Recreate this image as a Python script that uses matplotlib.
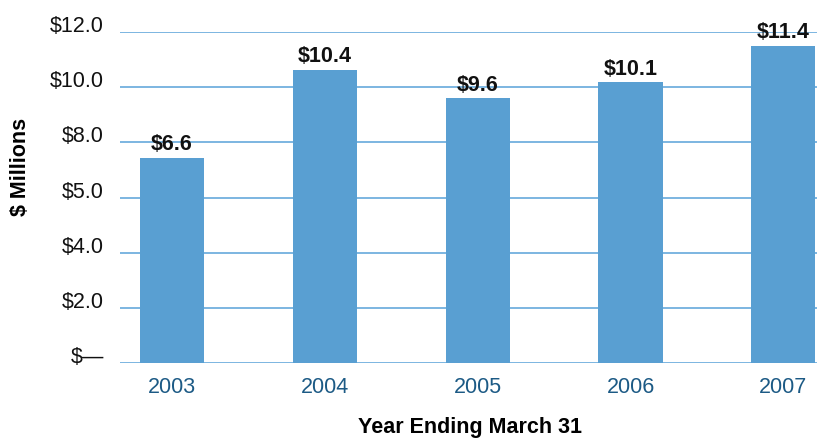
import matplotlib.pyplot as plt

plt.rcParams['font.family'] = ['Liberation Sans', 'DejaVu Sans']

years = ['2003', '2004', '2005', '2006', '2007']
# bar heights as drawn against the axis, and the labels printed on them
heights = [7.43, 10.62, 9.6, 10.18, 11.49]
value_labels = ['$6.6', '$10.4', '$9.6', '$10.1', '$11.4']
ytick_pos = [0, 2, 4, 6, 8, 10, 12]
ytick_labels = ['$\u2014', '$2.0', '$4.0', '$5.0', '$8.0', '$10.0', '$12.0']

bar_color = '#599fd2'
grid_color = '#72b0de'

fig = plt.figure(figsize=(8.17, 4.4), dpi=100)
ax = fig.add_axes([0.1469, 0.175, 0.8531, 0.752])

x = range(len(years))
ax.bar(x, heights, width=0.42, color=bar_color, zorder=3)

for i, (h, lab) in enumerate(zip(heights, value_labels)):
    ax.annotate(lab, (i, h), xytext=(0, 2), textcoords='offset points',
                ha='center', va='bottom', fontsize=15.5, fontweight='bold',
                color='#111111', zorder=4)

ax.set_xlim(-0.34, 4.22)
ax.set_ylim(0, 12)
ax.set_xticks(list(x))
ax.set_xticklabels(years, fontsize=15.5, color='#1c5a85')
ax.set_yticks(ytick_pos)
ax.set_yticklabels(ytick_labels, fontsize=15.5, color='#111111')
# labels sit on their gridlines, not centred on them
for t in ax.get_yticklabels():
    t.set_verticalalignment('baseline')
ax.tick_params(axis='both', length=0)
ax.tick_params(axis='y', pad=11.5)
ax.tick_params(axis='x', pad=10)

ax.yaxis.grid(True, color=grid_color, linewidth=1.3, zorder=0)
ax.set_axisbelow(True)
for s in ax.spines.values():
    s.set_visible(False)

fig.text(21 / 817, 1 - 167 / 440, '$ Millions', rotation=90, ha='center',
         va='center', fontsize=15.5, fontweight='bold')
fig.text(470 / 817, 2 / 440, 'Year Ending March 31', ha='center',
         va='bottom', fontsize=15.5, fontweight='bold')

fig.savefig('out.png', dpi=100)
